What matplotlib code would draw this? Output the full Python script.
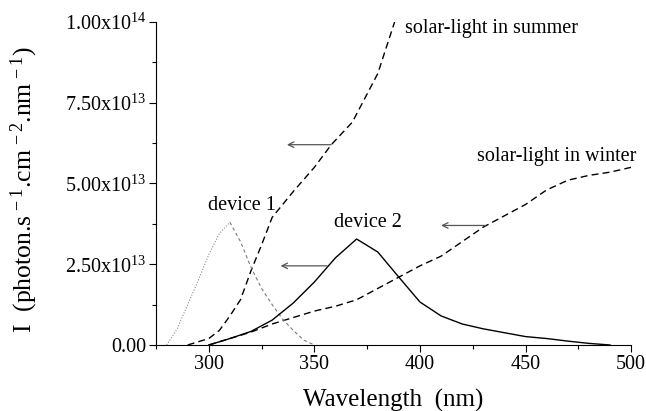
import matplotlib
matplotlib.use('Agg')
import matplotlib.pyplot as plt
from matplotlib.ticker import MultipleLocator, FuncFormatter

plt.rcParams['font.family'] = ['Liberation Serif', 'DejaVu Serif']
plt.rcParams['mathtext.fontset'] = 'custom'
plt.rcParams['mathtext.rm'] = 'Liberation Serif'
plt.rcParams['mathtext.it'] = 'Liberation Serif:italic'
plt.rcParams['mathtext.bf'] = 'Liberation Serif:bold'

# --- data (intensity in units of 1e13) ---
wl_summer = [290, 300, 305, 310, 315, 320, 325, 330, 340, 350, 358, 368, 380, 388]
i_summer = [0.0, 0.2, 0.45, 0.9, 1.4, 2.3, 3.1, 3.95, 4.75, 5.5, 6.2, 6.9, 8.4, 10.0]

wl_winter = [300, 310, 320, 330, 340, 350, 360, 370, 380, 390, 400, 410, 420, 430,
             440, 450, 460, 470, 480, 490, 500]
i_winter = [0.0, 0.2, 0.4, 0.65, 0.85, 1.05, 1.2, 1.4, 1.75, 2.1, 2.45, 2.75, 3.2, 3.65,
            4.0, 4.35, 4.8, 5.1, 5.25, 5.35, 5.5]

wl_dev1_up = [280, 285, 290, 295, 300, 305, 310]
i_dev1_up = [0.0, 0.5, 1.25, 2.0, 2.8, 3.45, 3.8]
wl_dev1_down = [310, 315, 320, 325, 330, 335, 340, 345, 350]
i_dev1_down = [3.8, 3.2, 2.4, 1.75, 1.25, 0.8, 0.45, 0.15, 0.0]

wl_dev2 = [300, 310, 320, 330, 340, 350, 360, 370, 380, 390, 400, 410, 420, 430,
           440, 450, 460, 470, 480, 490]
i_dev2 = [0.0, 0.2, 0.42, 0.77, 1.3, 1.95, 2.7, 3.28, 2.88, 2.1, 1.33, 0.9, 0.65, 0.5,
          0.38, 0.26, 0.2, 0.12, 0.05, 0.0]

scale = 1e13
fig = plt.figure(figsize=(6.46, 4.11), dpi=100)
ax = fig.add_axes([0.2415, 0.1606, 0.7355, 0.786])

ax.plot(wl_summer, [v * scale for v in i_summer], color='black', ls=(0, (5, 3)), lw=1.0)
ax.plot(wl_winter, [v * scale for v in i_winter], color='black', ls=(0, (5, 3)), lw=1.0)
ax.plot(wl_dev1_up, [v * scale for v in i_dev1_up], color='#8a8a8a', ls=(0, (1, 1.5)), lw=0.8)
ax.plot(wl_dev1_down, [v * scale for v in i_dev1_down], color='#7a7a7a', ls=(0, (3, 2.5)), lw=0.8)
ax.plot(wl_dev2, [v * scale for v in i_dev2], color='black', lw=1.0)

# arrows pointing to the left axis
arr = dict(arrowstyle='->', color='#555555', lw=0.9, shrinkA=0, shrinkB=0)
ax.annotate('', xy=(337, 6.2e13), xytext=(358, 6.2e13), arrowprops=arr)
ax.annotate('', xy=(334, 2.45e13), xytext=(356, 2.45e13), arrowprops=arr)
ax.annotate('', xy=(410, 3.7e13), xytext=(431, 3.7e13), arrowprops=arr)

fs = 14.5
ax.text(393, 9.8e13, 'solar-light in summer', fontsize=fs, va='center', ha='left')
ax.text(427, 5.82e13, 'solar-light in winter', fontsize=fs, va='center', ha='left')
ax.text(299.5, 4.33e13, 'device 1', fontsize=fs, va='center', ha='left')
ax.text(359.5, 3.78e13, 'device 2', fontsize=fs, va='center', ha='left')

ax.set_xlim(275, 500)
ax.set_ylim(0, 1e14)
ax.xaxis.set_major_locator(MultipleLocator(50))
ax.xaxis.set_minor_locator(MultipleLocator(25))
ax.yaxis.set_major_locator(MultipleLocator(2.5e13))
ax.yaxis.set_minor_locator(MultipleLocator(1.25e13))


def yfmt(v, pos):
    if v == 0:
        return '0.00'
    exp = 13 if v < 1e14 else 14
    return '%.2fx10$^{%d}$' % (v / 10 ** exp, exp)


ax.yaxis.set_major_formatter(FuncFormatter(yfmt))
ax.tick_params(which='both', direction='out', labelsize=14.5, width=0.8)
ax.tick_params(which='major', length=5, pad=2)
ax.tick_params(which='minor', length=3)
for s in ['top', 'right']:
    ax.spines[s].set_visible(False)

ax.set_xlabel('Wavelength  (nm)', fontsize=18, va='center')
ax.xaxis.set_label_coords(0.50, -0.172)
ax.set_ylabel('I  (photon.s$^{\\,-1}$.cm$^{\\,-2}$.nm$^{\\,-1}$)', fontsize=18.5, va='center')
ax.yaxis.set_label_coords(-0.278, 0.48)

fig.savefig('out.png', dpi=100)
